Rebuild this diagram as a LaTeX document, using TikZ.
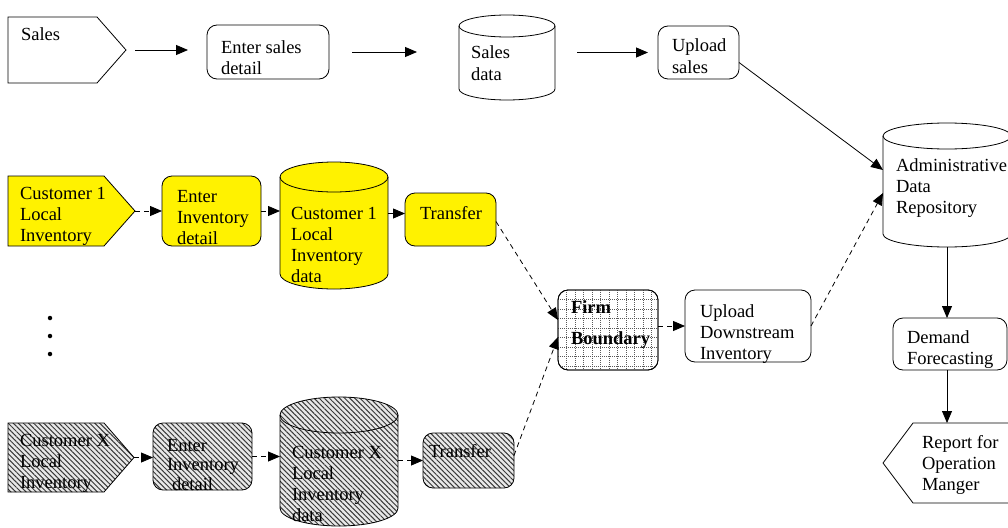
\documentclass[tikz,border=0pt]{standalone}
\usepackage{fontspec}
\setmainfont{Liberation Serif}
\usetikzlibrary{arrows.meta,patterns,patterns.meta}
\newcommand\tl[1]{\begin{tabular}[t]{@{}l@{}}#1\end{tabular}}
\newcommand\cylpath[4]{% name, rx, ry, style
  \path[#4] ([yshift=-#3pt]#1.north west) -- ([yshift=#3pt]#1.south west)
     arc[start angle=180,end angle=360,x radius=#2pt,y radius=#3pt]
     -- ([yshift=-#3pt]#1.north east)
     arc[start angle=0,end angle=180,x radius=#2pt,y radius=#3pt] -- cycle;
  \draw[shapeline] ([yshift=-#3pt]#1.north west)
     arc[start angle=180,end angle=360,x radius=#2pt,y radius=#3pt];}
\tikzset{
  shapeline/.style={draw=black,line width=0.8pt},
  rbox/.style={shapeline,rounded corners=10pt,inner sep=0pt,outer sep=0pt},
  yel/.style={fill=yellow},
  hatch/.style={preaction={fill=gray!18},pattern={Lines[angle=-45,distance=3.6pt,line width=1pt]},pattern color=gray!45!black},
  txt/.style={inner sep=0pt,outer sep=0pt,anchor=base west,font=\fontsize{18.5}{21}\selectfont},
  con/.style={line width=0.8pt,-{Triangle[length=12pt,width=10pt]}},
  dcon/.style={con,dash pattern=on 5pt off 4pt},
  dot/.style={circle,fill=black,inner sep=0pt,minimum size=4.5pt}
}
\begin{document}
\begin{tikzpicture}[x=1pt,y=-1pt]
\useasboundingbox[fill=white] (0,0) rectangle (1008,527);

% ---------- top row ----------
\node[inner sep=0pt,outer sep=0pt,minimum width=118pt,minimum height=66pt] (sales) at (67,50) {};
\draw[shapeline,fill=white] (sales.north west) -- ([xshift=-29pt]sales.north east) -- (sales.east)
   -- ([xshift=-29pt]sales.south east) -- (sales.south west) -- cycle;
\node[rbox,minimum width=122pt,minimum height=54pt] (esd) at (268,52) {};
\node[inner sep=0pt,outer sep=0pt,minimum width=96pt,minimum height=85pt] (sd) at (507,57.5) {};
\cylpath{sd}{48}{11}{shapeline,fill=white}
\node[rbox,minimum width=81pt,minimum height=53pt] (us) at (698.5,52.5) {};

% ---------- right column ----------
\node[inner sep=0pt,outer sep=0pt,minimum width=128pt,minimum height=124pt] (adr) at (947,185) {};
\cylpath{adr}{64}{13}{shapeline,fill=white}
\node[rbox,minimum width=114pt,minimum height=52pt] (df) at (950,344) {};
\node[inner sep=0pt,outer sep=0pt,minimum width=132pt,minimum height=80pt] (rep) at (949,463) {};
\draw[shapeline,fill=white] (rep.west) -- ([xshift=30pt]rep.north west) -- (rep.north east)
   -- (rep.south east) -- ([xshift=30pt]rep.south west) -- cycle;

% ---------- customer 1 row ----------
\node[inner sep=0pt,outer sep=0pt,minimum width=127pt,minimum height=70pt] (c1) at (71.5,211) {};
\draw[shapeline,yel] (c1.north west) -- ([xshift=-31pt]c1.north east) -- (c1.east)
   -- ([xshift=-31pt]c1.south east) -- (c1.south west) -- cycle;
\node[rbox,yel,minimum width=99pt,minimum height=70pt] (eid1) at (211.5,211) {};
\node[inner sep=0pt,outer sep=0pt,minimum width=108pt,minimum height=127pt] (cd1) at (334,225.5) {};
\cylpath{cd1}{54}{15}{shapeline,yel}
\node[rbox,yel,minimum width=91pt,minimum height=53pt] (tr1) at (450.5,219.5) {};

% ---------- dots ----------
\node[dot] (d1) at (50,318) {};
\node[dot] (d2) at (50,336) {};
\node[dot] (d3) at (50,354) {};

% ---------- customer X row ----------
\node[inner sep=0pt,outer sep=0pt,minimum width=126pt,minimum height=69pt] (cX) at (71,457.5) {};
\draw[shapeline,hatch] (cX.north west) -- ([xshift=-30pt]cX.north east) -- (cX.east)
   -- ([xshift=-30pt]cX.south east) -- (cX.south west) -- cycle;
\node[rbox,hatch,minimum width=99pt,minimum height=67pt] (eidX) at (202.5,456.5) {};
\node[inner sep=0pt,outer sep=0pt,minimum width=118pt,minimum height=129pt] (cdX) at (339,461.5) {};
\cylpath{cdX}{59}{18}{shapeline,hatch}
\node[rbox,hatch,minimum width=91pt,minimum height=55pt] (trX) at (468.5,460.5) {};

% ---------- firm boundary & upload ----------
\node[rbox,fill=white,minimum width=100pt,minimum height=80pt] (fb) at (608,330) {};
\begin{scope}
  \clip[rounded corners=10pt] (fb.north west) rectangle (fb.south east);
  \foreach \i in {1,...,11} \draw[gray!70!black,line width=0.5pt,dash pattern=on 1pt off 1pt] ([xshift=\i*8.5pt]fb.north west) -- ([xshift=\i*8.5pt]fb.south west);
  \foreach \j in {1,...,8} \draw[gray!70!black,line width=0.5pt,dash pattern=on 1pt off 1pt] ([yshift=-\j*9.5pt]fb.north west) -- ([yshift=-\j*9.5pt]fb.north east);
\end{scope}
\node[rbox,minimum width=100pt,minimum height=80pt] (fbb) at (608,330) {};
\node[rbox,minimum width=126pt,minimum height=72pt] (udi) at (748,326) {};

% ---------- texts ----------
\node[txt] (t-sales) at (21,41) {Sales};
\node[txt] (t-esd) at (221,53) {\tl{Enter sales\\detail}};
\node[txt] (t-sd) at (471,59) {\tl{Sales\\data}};
\node[txt] (t-us) at (672,52) {\tl{Upload\\sales}};
\node[txt] (t-adr) at (896,171) {\tl{Administrative\\Data\\Repository}};
\node[txt] (t-df) at (907,343) {\tl{Demand\\Forecasting}};
\node[txt] (t-rep) at (922,448) {\tl{Report for\\Operation\\Manger}};
\node[txt] (t-c1) at (20,199) {\tl{Customer 1\\Local\\Inventory}};
\node[txt] (t-eid1) at (177,202) {\tl{Enter\\Inventory\\detail}};
\node[txt] (t-cd1) at (291,219) {\tl{Customer 1\\Local\\Inventory\\data}};
\node[txt] (t-tr1) at (420,219) {Transfer};
\node[txt] (t-cX) at (20,446) {\tl{Customer X\\Local\\Inventory}};
\node[txt,font=\fontsize{18.5}{19.5}\selectfont] (t-eidX) at (167,451) {\tl{Enter\\Inventory\\\hspace*{5pt}detail}};
\node[txt] (t-cdX) at (292,458) {\tl{Customer X\\Local\\Inventory\\data}};
\node[txt] (t-trX) at (429,457) {Transfer};
\node[txt,font=\fontsize{18.5}{21}\selectfont\bfseries] (t-fb1) at (571,313) {Firm};
\node[txt,font=\fontsize{18.5}{21}\selectfont\bfseries] (t-fb2) at (571,344) {Boundary};
\node[txt] (t-udi) at (700,317) {\tl{Upload\\Downstream\\Inventory}};

% ---------- connectors ----------
\draw[con,shorten <=9pt,shorten >=19pt] (sales.east) -- (sales.east -| esd.west);
\draw[con,shorten <=23pt,shorten >=42pt] (esd.east) -- (esd.east -| sd.west);
\draw[con,shorten <=22pt,shorten >=10pt] (sd.east |- us.west) -- (us.west);
\draw[con] ([yshift=-10pt]us.east) -- ([yshift=15pt]adr.west);
\draw[con] (adr.south) -- (adr.south |- df.north);
\draw[con] (df.south -| adr.south) -- (adr.south |- rep.north);

\draw[dcon] (c1.east) -- (eid1.west);
\draw[dcon] (eid1.east) -- (eid1.east -| cd1.west);
\draw[dcon] ([yshift=6pt]tr1.west -| cd1.east) -- ([yshift=6pt]tr1.west);
\draw[dcon] ([yshift=-2pt]tr1.east) -- ([yshift=10pt]fb.west);

\draw[dcon] (cX.east) -- (cX.east -| eidX.west);
\draw[dcon] (eidX.east) -- (eidX.east -| cdX.west);
\draw[dcon] (trX.west -| cdX.east) -- (trX.west);
\draw[dcon] ([yshift=5pt]trX.east) -- ([yshift=-7pt]fb.west);

\draw[dcon] (udi.west -| fb.east) -- (udi.west);
\draw[dcon] (udi.east) -- ([yshift=-8pt]adr.west);
\end{tikzpicture}
\end{document}
